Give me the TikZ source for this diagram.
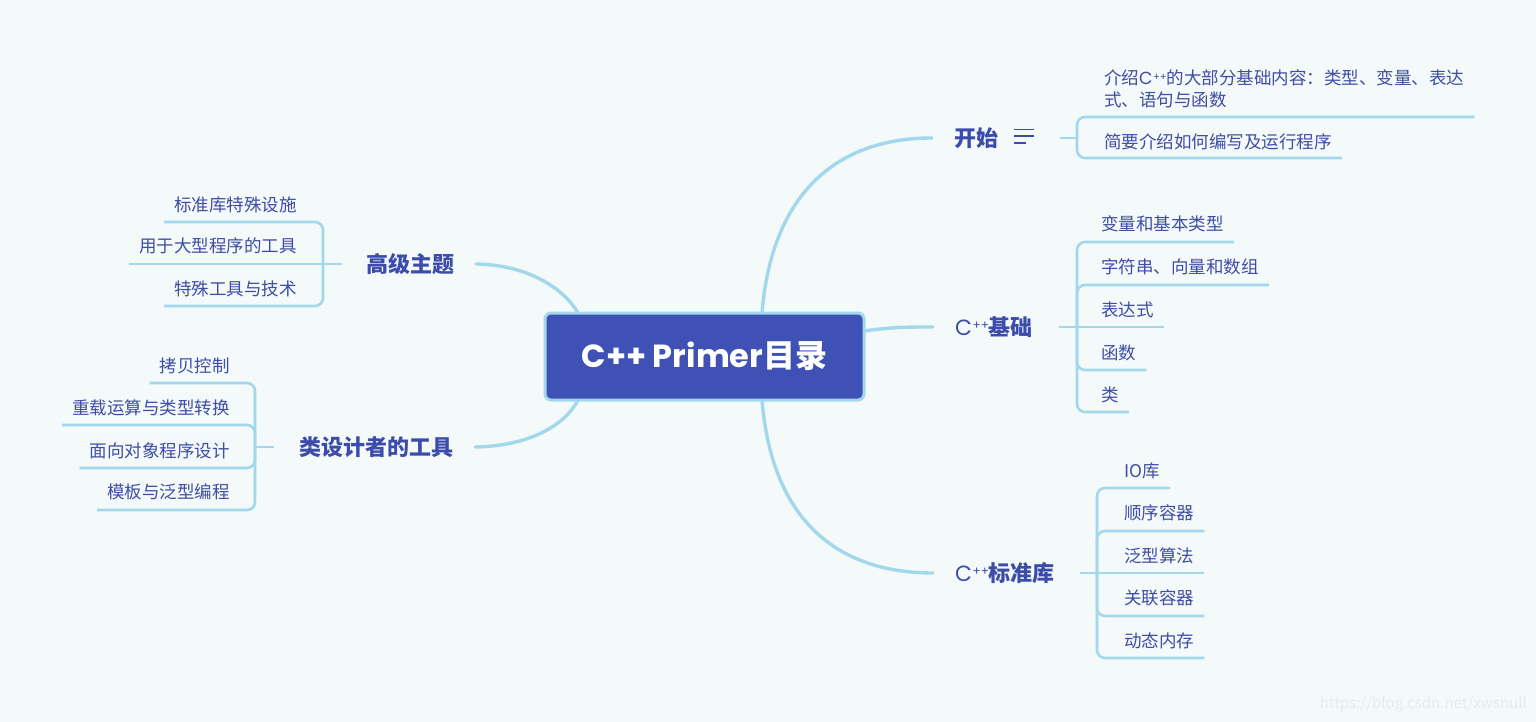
\documentclass[tikz,border=0pt]{standalone}
\usepackage{fontspec}
\usetikzlibrary{calc}
\setmainfont{Noto Sans CJK SC}
\newfontfamily\popfont{Poppins}
\definecolor{bgc}{HTML}{F4F9FA}
\definecolor{ln}{HTML}{A3D8EC}
\definecolor{ctr}{HTML}{3F51B5}
\definecolor{mtxt}{HTML}{3C4CAA}
\definecolor{stxt}{HTML}{3F4DA5}
\definecolor{wm}{HTML}{E6ECEE}
\pgfdeclarelayer{bglayer}
\pgfdeclarelayer{lines}
\pgfsetlayers{bglayer,lines,main}
\newcommand\cppm{{\popfont\mdseries C\kern0.5pt\raisebox{0.5ex}{\fontsize{12}{12}\selectfont ++}}}
\newcommand\cpps{{\popfont C\kern0.3pt\raisebox{0.45ex}{\fontsize{10}{10}\selectfont ++}}}
\begin{document}
\begin{tikzpicture}[x=1pt,y=-1pt,
  conn/.style={draw=ln,line width=3.4pt,line cap=round},
  brk/.style={draw=ln,line width=2.6pt,rounded corners=8pt},
  mainlbl/.style={text=mtxt,font=\fontsize{22}{26}\selectfont\bfseries,inner xsep=22pt,inner ysep=0pt},
  sublbl/.style={text=stxt,font=\fontsize{17.5}{22}\selectfont,inner sep=0pt},
]
\begin{pgfonlayer}{bglayer}
\fill[bgc] (0,0) rectangle (1536,722);
\end{pgfonlayer}
\useasboundingbox (0,0) rectangle (1536,722);

% root
\node[draw=ln,line width=3pt,fill=ctr,rounded corners=6pt,minimum width=319pt,minimum height=87pt,
  text=white,font=\fontsize{32}{36}\selectfont\bfseries,inner sep=0pt] (root) at (704.5,356.5)
  {{\popfont\bfseries C++ Primer}目录};
\coordinate (rT) at (762,313);
\coordinate (rR) at (863,331);
\coordinate (rB) at (762,400);
\coordinate (rTL) at (578,313);
\coordinate (rBL) at (578,400);

% main branches
\node[mainlbl] (kaishi) at (976,138) {开始};
\node[mainlbl] (jichu) at (994,327) {\cppm 基础};
\node[mainlbl] (biaozhun) at (1005,573) {\cppm 标准库};
\node[mainlbl] (gaoji) at (410,264) {高级主题};
\node[mainlbl] (leisheji) at (376,447) {类设计者的工具};

% notes icon
\node[minimum width=19pt,minimum height=13pt,inner sep=0pt] (icon) at (1024,136.5) {};
\draw[mtxt,line width=1.4pt] (icon.north west) -- (icon.north east)
  ($(icon.west)+(0,-0.5)$) -- ($(icon.east)+(0,-0.5)$)
  (icon.south west) -- ($(icon.south west)+(12,0)$);

\begin{pgfonlayer}{lines}
\draw[conn] (rT) .. controls (772,190) and (840,138) .. (kaishi.west);
\draw[conn] (rR) .. controls (895,327) and (905,327) .. (jichu.west);
\draw[conn] (rB) .. controls (772,523) and (840,573) .. (biaozhun.west);
\draw[conn] (gaoji.east) .. controls (530,265) and (565,290) .. (rTL);
\draw[conn] (leisheji.east) .. controls (530,446) and (565,425) .. (rBL);
\end{pgfonlayer}

% ---- 开始 children
\node[sublbl,anchor=west,align=left] (k1) at (1104,89) {介绍\cpps 的大部分基础内容：类型、变量、表达\\式、语句与函数};
\node[sublbl,anchor=west] (k2) at (1104,142) {简要介绍如何编写及运行程序};
\coordinate (kb) at (1077,138);
\draw[brk] ([xshift=26pt]icon.east |- kb) -- (kb);
\draw[brk] (kb) |- ([xshift=10pt]k1.east |- 0,117);
\draw[brk] (kb) |- ([xshift=10pt]k2.east |- 0,158);

% ---- C++基础 children
\node[sublbl,anchor=west] (j1) at (1101,224) {变量和基本类型};
\node[sublbl,anchor=west] (j2) at (1101,267) {字符串、向量和数组};
\node[sublbl,anchor=west] (j3) at (1101,310) {表达式};
\node[sublbl,anchor=west] (j4) at (1101,353) {函数};
\node[sublbl,anchor=west] (j5) at (1101,395) {类};
\coordinate (jb) at (1077,327);
\draw[brk] ([xshift=4pt]jichu.east) -- (jb);
\draw[brk] (jb) |- ([xshift=10pt]j1.east |- 0,242);
\draw[brk] (jb) |- ([xshift=10pt]j2.east |- 0,285);
\draw[brk] (jb) -- ([xshift=10pt]j3.east |- 0,327);
\draw[brk] (jb) |- ([xshift=10pt]j4.east |- 0,370);
\draw[brk] (jb) |- ([xshift=10pt]j5.east |- 0,412);

% ---- C++标准库 children
\node[sublbl,anchor=west] (s1) at (1124,471) {IO库};
\node[sublbl,anchor=west] (s2) at (1124,513) {顺序容器};
\node[sublbl,anchor=west] (s3) at (1124,556) {泛型算法};
\node[sublbl,anchor=west] (s4) at (1124,598) {关联容器};
\node[sublbl,anchor=west] (s5) at (1124,641) {动态内存};
\coordinate (sb) at (1097,573);
\draw[brk] ([xshift=3pt]biaozhun.east) -- (sb);
\draw[brk] (sb) |- ([xshift=10pt]s1.east |- 0,488);
\draw[brk] (sb) |- ([xshift=10pt]s2.east |- 0,531);
\draw[brk] (sb) -- ([xshift=10pt]s3.east |- 0,573);
\draw[brk] (sb) |- ([xshift=10pt]s4.east |- 0,616);
\draw[brk] (sb) |- ([xshift=10pt]s5.east |- 0,658);

% ---- 高级主题 children
\node[sublbl,anchor=east] (g1) at (297,205) {标准库特殊设施};
\node[sublbl,anchor=east] (g2) at (297,246) {用于大型程序的工具};
\node[sublbl,anchor=east] (g3) at (297,289) {特殊工具与技术};
\coordinate (gb) at (323,264);
\draw[brk] ([xshift=-2pt]gaoji.west) -- (gb);
\draw[brk] (gb) |- ([xshift=-10pt]g1.west |- 0,222);
\draw[brk] (gb) -- ([xshift=-10pt]g2.west |- 0,264);
\draw[brk] (gb) |- ([xshift=-10pt]g3.west |- 0,306);

% ---- 类设计者的工具 children
\node[sublbl,anchor=east] (l1) at (230,366) {拷贝控制};
\node[sublbl,anchor=east] (l2) at (230,408) {重载运算与类型转换};
\node[sublbl,anchor=east] (l3) at (230,451) {面向对象程序设计};
\node[sublbl,anchor=east] (l4) at (230,492) {模板与泛型编程};
\coordinate (lb) at (255,447);
\draw[brk] ([xshift=-3pt]leisheji.west) -- (lb);
\draw[brk] (lb) |- ([xshift=-10pt]l1.west |- 0,383);
\draw[brk] (lb) |- ([xshift=-10pt]l2.west |- 0,425);
\draw[brk] (lb) |- ([xshift=-10pt]l3.west |- 0,468);
\draw[brk] (lb) |- ([xshift=-10pt]l4.west |- 0,510);

% watermark
\node[text=wm,font=\fontsize{15}{18}\selectfont,anchor=east,inner sep=0pt] (wmk) at (1527,704) {https://blog.csdn.net/xwsnull};
\end{tikzpicture}
\end{document}
